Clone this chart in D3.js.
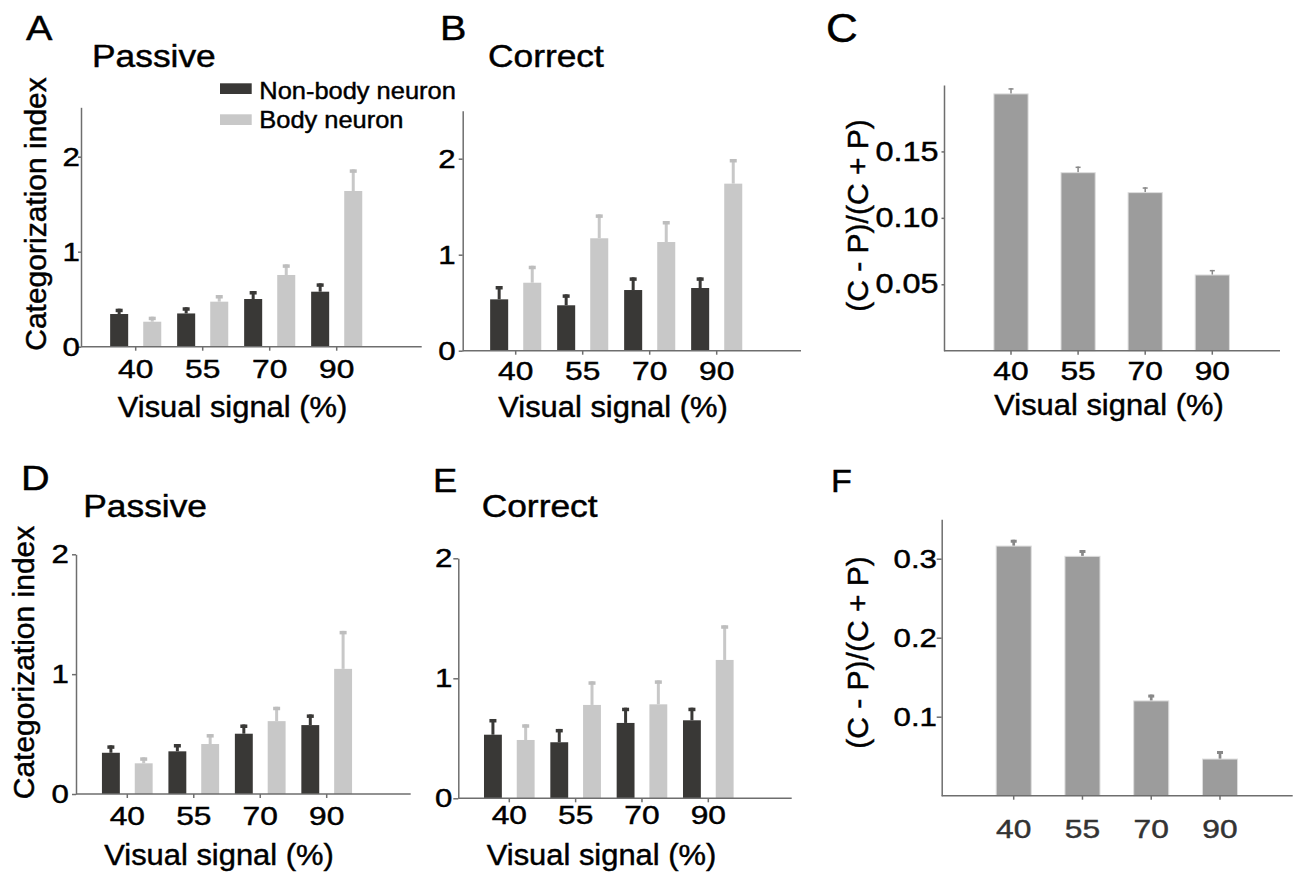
<!DOCTYPE html>
<html>
<head>
<meta charset="utf-8">
<script src="https://cdn.jsdelivr.net/npm/d3@7"></script>
<style>
  body { margin: 0; background: #fff; }
  svg { display: block; font-family: "Liberation Sans", Arial, sans-serif; }
  svg text { stroke-width: 0.45px; }
</style>
</head>
<body>
<div id="vis"></div>
<script>
'use strict';

// Visual signal levels (x categories)
const signals = ["40", "55", "70", "90"];
const neuronTypes = ["Non-body neuron", "Body neuron"];

// A: passive, categorization index (mean and SEM)
const passiveNonBodyA = [0.344, 0.350, 0.502, 0.579];
const passiveNonBodyErrA = [0.056, 0.065, 0.084, 0.088];
const passiveBodyA = [0.263, 0.474, 0.755, 1.639];
const passiveBodyErrA = [0.053, 0.070, 0.112, 0.228];

// B: correct trials
const correctNonBodyB = [0.535, 0.473, 0.632, 0.653];
const correctNonBodyErrB = [0.139, 0.114, 0.132, 0.111];
const correctBodyB = [0.708, 1.171, 1.132, 1.740];
const correctBodyErrB = [0.177, 0.249, 0.219, 0.257];

// C: (C - P)/(C + P)
const ratioC = [0.1933, 0.1340, 0.1190, 0.0570];
const ratioErrC = [0.0043, 0.0046, 0.0040, 0.0038];

// D: passive
const passiveNonBodyD = [0.344, 0.356, 0.503, 0.575];
const passiveNonBodyErrD = [0.062, 0.061, 0.077, 0.089];
const passiveBodyD = [0.256, 0.417, 0.608, 1.044];
const passiveBodyErrD = [0.050, 0.083, 0.120, 0.317];

// E: correct
const correctNonBodyE = [0.530, 0.467, 0.628, 0.650];
const correctNonBodyErrE = [0.131, 0.111, 0.127, 0.105];
const correctBodyE = [0.486, 0.778, 0.783, 1.153];
const correctBodyErrE = [0.131, 0.197, 0.200, 0.289];

// F: (C - P)/(C + P)
const ratioF = [0.316, 0.303, 0.120, 0.0464];
const ratioErrF = [0.008, 0.008, 0.008, 0.0102];

// Tick values
const indexTicks = [0, 1, 2];
const ratioTicksC = [0.05, 0.10, 0.15];
const ratioTicksF = [0.1, 0.2, 0.3];

const colors = {
    "Non-body neuron": "#393836",
    "Body neuron": "#c8c8c8",
    ratio: "#9c9c9c",
    ratioEdge: "#dedede",
    ratioErr: "#888888",
    axis: "#6e6e6e"
};

const svg = d3.select("#vis").append("svg")
    .attr("width", 1295)
    .attr("height", 873);

// Layout of every panel
const panels = [
    { letter: "A", letterX: 26, letterY: 40, letterSize: 36,
      title: "Passive", titleX: 92, titleY: 66.7,
      left: 81, right: 421.7, zero: 346.7, top: 107.3, yMax: 2.52,
      yTicks: indexTicks, yFormat: d3.format("d"), yTickLen: 3, yTickPad: -2, yFont: 26,
      xFirst: 135.7, xLast: 336.7, xTickPad: 9.3, xTickColor: "#000",
      xTitle: "Visual signal (%)", xTitleX: 232.5, xTitleY: 416.7,
      yTitle: "Categorization index", yTitleX: 46, yTitleY: 214,
      grouped: [[passiveNonBodyA, passiveNonBodyErrA], [passiveBodyA, passiveBodyErrA]] },
    { letter: "B", letterX: 440, letterY: 40, letterSize: 36,
      title: "Correct", titleX: 488, titleY: 66.7,
      left: 462.7, right: 801, zero: 350.7, top: 110.7, yMax: 2.5,
      yTicks: indexTicks, yFormat: d3.format("d"), yTickLen: 4, yTickPad: 2, yFont: 26,
      xFirst: 515.7, xLast: 716.7, xTickPad: 7, xTickColor: "#000",
      xTitle: "Visual signal (%)", xTitleX: 613, xTitleY: 416.7,
      grouped: [[correctNonBodyB, correctNonBodyErrB], [correctBodyB, correctBodyErrB]] },
    { letter: "C", letterX: 826, letterY: 42, letterSize: 40,
      left: 944, right: 1280, zero: 350.7, top: 85, yMax: 0.2,
      yTicks: ratioTicksC, yFormat: d3.format(".2f"), yTickLen: 2.5, yTickPad: 2, yFont: 27,
      xFirst: 1011, xLast: 1212.3, xTickPad: 7, xTickColor: "#000",
      xTitle: "Visual signal (%)", xTitleX: 1109, xTitleY: 415,
      yTitle: "(C - P)/(C + P)", yTitleX: 868, yTitleY: 215.5,
      ratio: [ratioC, ratioErrC], errWidth: 1.5, capW: 5, capH: 1.5 },
    { letter: "D", letterX: 21, letterY: 490, letterSize: 36,
      title: "Passive", titleX: 83.3, titleY: 517.3,
      left: 76, right: 410.7, zero: 794, top: 554.3, yMax: 2,
      yTicks: indexTicks, yFormat: d3.format("d"), yTickLen: 4, yTickPad: 2, yFont: 26,
      xFirst: 127.3, xLast: 326.7, xTickPad: 8.7, xTickColor: "#000",
      xTitle: "Visual signal (%)", xTitleX: 219, xTitleY: 865,
      yTitle: "Categorization index", yTitleX: 33.5, yTitleY: 662.5,
      grouped: [[passiveNonBodyD, passiveNonBodyErrD], [passiveBodyD, passiveBodyErrD]] },
    { letter: "E", letterX: 433, letterY: 491.7, letterSize: 33,
      title: "Correct", titleX: 481.7, titleY: 516.7,
      left: 458.3, right: 791.7, zero: 798.3, top: 558.3, yMax: 2,
      yTicks: indexTicks, yFormat: d3.format("d"), yTickLen: 5, yTickPad: 0, yFont: 26,
      xFirst: 509.3, xLast: 708.3, xTickPad: 3, xTickColor: "#000",
      xTitle: "Visual signal (%)", xTitleX: 601.5, xTitleY: 865,
      grouped: [[correctNonBodyE, correctNonBodyErrE], [correctBodyE, correctBodyErrE]] },
    { letter: "F", letterX: 831, letterY: 491.7, letterSize: 31,
      left: 941.7, right: 1292.7, zero: 795.7, top: 519.2, yMax: 0.35,
      yTicks: ratioTicksF, yFormat: d3.format(".1f"), yTickLen: 5, yTickPad: -1, yFont: 26,
      xFirst: 1013.7, xLast: 1220, xTickPad: 20, xTickColor: "#333",
      yTitle: "(C - P)/(C + P)", yTitleX: 868, yTitleY: 652.5,
      ratio: [ratioF, ratioErrF], errWidth: 2.7, capW: 6, capH: 3 }
];

panels.forEach(drawPanel);
drawLegend();

// Draws one panel: bars, error bars, axes and labels
function drawPanel(p) {
    let g = svg.append("g");
    let step = (p.xLast - p.xFirst) / (signals.length - 1);

    let y = d3.scaleLinear()
        .domain([0, p.yMax])
        .range([p.zero, p.top]);

    let pad = p.ratio ? 0.49 : 0;
    let x = d3.scaleBand()
        .domain(signals)
        .range([p.xFirst - step / 2, p.xLast + step / 2])
        .paddingInner(pad)
        .paddingOuter(pad / 2);

    if (p.grouped) {
        drawGroupedBars(g, p, x, y);
    } else {
        drawRatioBars(g, p, x, y);
    }

    // y axis
    let yAxis = g.append("g")
        .attr("transform", "translate(" + p.left + ",0)")
        .call(d3.axisLeft(y)
            .tickValues(p.yTicks)
            .tickFormat(p.yFormat)
            .tickSizeInner(p.yTickLen)
            .tickSizeOuter(0)
            .tickPadding(p.yTickPad));
    styleAxis(yAxis, p.yFont, "#000", 1.2);

    // x axis: line over the full width, ticks at the categories
    g.append("line")
        .attr("x1", p.left)
        .attr("x2", p.right)
        .attr("y1", y(0))
        .attr("y2", y(0))
        .attr("stroke", colors.axis)
        .attr("stroke-width", 1.5);
    let xAxis = g.append("g")
        .attr("transform", "translate(0," + y(0) + ")")
        .call(d3.axisBottom(x)
            .tickSizeInner(4)
            .tickSizeOuter(0)
            .tickPadding(p.xTickPad));
    xAxis.select(".domain").remove();
    styleAxis(xAxis, 26, p.xTickColor, 1.22);

    // panel letter and title
    stretchedText(g, p.letter, p.letterX, p.letterY, p.letterSize, 1.1, "start");
    if (p.title) {
        stretchedText(g, p.title, p.titleX, p.titleY, 31, 1.14, "start");
    }
    if (p.xTitle) {
        stretchedText(g, p.xTitle, p.xTitleX, p.xTitleY, 30, 1.03, "middle");
    }
    if (p.yTitle) {
        g.append("text")
            .attr("transform", "translate(" + p.yTitleX + "," + p.yTitleY + ")rotate(-90)")
            .attr("text-anchor", "middle")
            .style("font-size", "30px")
            .attr("fill", "#000")
            .attr("stroke", "#000")
            .text(p.yTitle);
    }
}

// Dark / light bar pairs with upper error bars
function drawGroupedBars(g, p, x, y) {
    let sub = d3.scaleBand()
        .domain(neuronTypes)
        .range([0, x.bandwidth()])
        .paddingInner(0.4545)
        .paddingOuter(0.24);

    neuronTypes.forEach((type, k) => {
        let rows = signals.map((s, i) => ({ s: s, v: p.grouped[k][0][i], e: p.grouped[k][1][i] }));
        let cx = (d) => x(d.s) + sub(type) + sub.bandwidth() / 2;
        let color = colors[type];

        g.append("g").selectAll("rect")
            .data(rows)
            .enter()
            .append("rect")
                .attr("x", (d) => x(d.s) + sub(type))
                .attr("y", (d) => y(d.v))
                .attr("width", sub.bandwidth())
                .attr("height", (d) => y(0) - y(d.v))
                .attr("fill", color);

        g.append("g").selectAll("line")
            .data(rows)
            .enter()
            .append("line")
                .attr("x1", cx)
                .attr("x2", cx)
                .attr("y1", (d) => y(d.v))
                .attr("y2", (d) => y(d.v + d.e))
                .attr("stroke", color)
                .attr("stroke-width", 3);

        g.append("g").selectAll("rect")
            .data(rows)
            .enter()
            .append("rect")
                .attr("x", (d) => cx(d) - 3.5)
                .attr("y", (d) => y(d.v + d.e))
                .attr("width", 7)
                .attr("height", 3.5)
                .attr("fill", type === "Body neuron" ? "#bdbdbd" : color);
    });
}

// Single gray bars for the (C - P)/(C + P) panels
function drawRatioBars(g, p, x, y) {
    let rows = signals.map((s, i) => ({ s: s, v: p.ratio[0][i], e: p.ratio[1][i] }));
    let cx = (d) => x(d.s) + x.bandwidth() / 2;

    g.append("g").selectAll("line")
        .data(rows)
        .enter()
        .append("line")
            .attr("x1", cx)
            .attr("x2", cx)
            .attr("y1", (d) => y(d.v))
            .attr("y2", (d) => y(d.v + d.e))
            .attr("stroke", colors.ratioErr)
            .attr("stroke-width", p.errWidth);

    g.append("g").selectAll("rect")
        .data(rows)
        .enter()
        .append("rect")
            .attr("x", (d) => cx(d) - p.capW / 2)
            .attr("y", (d) => y(d.v + d.e))
            .attr("width", p.capW)
            .attr("height", p.capH)
            .attr("fill", colors.ratioErr);

    g.append("g").selectAll("rect")
        .data(rows)
        .enter()
        .append("rect")
            .attr("x", (d) => x(d.s))
            .attr("y", (d) => y(d.v))
            .attr("width", x.bandwidth())
            .attr("height", (d) => y(0) - y(d.v))
            .attr("fill", colors.ratio)
            .attr("stroke", colors.ratioEdge)
            .attr("stroke-width", 1);
}

// Axis colors and label fonts
function styleAxis(axis, size, fill, stretch) {
    axis.attr("font-size", null).attr("font-family", null);
    axis.selectAll(".domain, .tick line")
        .attr("stroke", colors.axis)
        .attr("stroke-width", 1.5);
    axis.selectAll(".tick text")
        .style("font-size", size + "px")
        .attr("fill", fill)
        .attr("stroke", fill)
        .attr("transform", "scale(" + stretch + ",1)");
}

// Text widened a bit horizontally, as in the original figure
function stretchedText(g, str, x, y, size, stretch, anchor) {
    g.append("text")
        .attr("transform", "translate(" + x + "," + y + ")scale(" + stretch + ",1)")
        .attr("text-anchor", anchor)
        .style("font-size", size + "px")
        .attr("fill", "#000")
        .attr("stroke", "#000")
        .text(str);
}

// Legend of panel A
function drawLegend() {
    let legend = svg.append("g");
    legend.selectAll("rect")
        .data(neuronTypes)
        .enter()
        .append("rect")
            .attr("x", 220)
            .attr("y", (d, i) => 83.3 + i * 31)
            .attr("width", 31.7)
            .attr("height", 10.7)
            .attr("fill", (d) => colors[d]);
    neuronTypes.forEach((d, i) => {
        stretchedText(legend, d, 259.3, 98.8 + i * 29.5, 24, 1.06, "start");
    });
}
</script>
</body>
</html>
